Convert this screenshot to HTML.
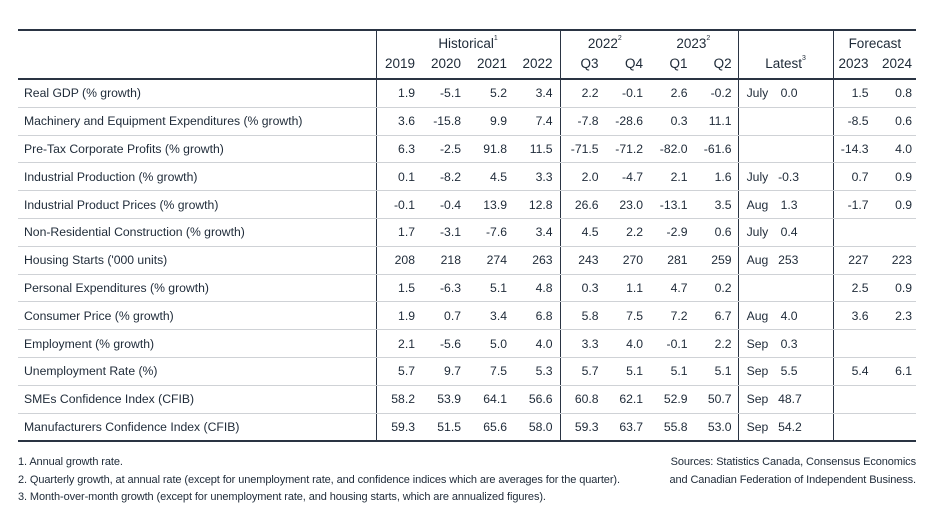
<!DOCTYPE html>
<html><head><meta charset="utf-8"><style>
body{margin:0;width:932px;height:524px;background:#fff;font-family:"Liberation Sans",sans-serif;color:#1e2a38;position:relative;overflow:hidden}
table{position:absolute;left:18px;top:29px;width:898px;border-collapse:collapse;table-layout:fixed;font-size:12.2px}
td{padding:0;white-space:nowrap;text-align:right;overflow:visible}
tr.h1 td{height:21px;border-top:2px solid #2a3443;text-align:center;vertical-align:middle;font-size:13.5px;padding-top:2px}
tr.h2 td{height:22px;border-bottom:2px solid #2a3443;vertical-align:top;padding-top:2px;font-size:13.5px}
tr.b td{height:26.8px;border-bottom:1px solid #cfd2d6}
tr.last td{border-bottom:2px solid #2a3443}
td.l{text-align:left;padding-left:6px}
.vr{border-right:1.5px solid #2a3443}
td.a{padding-right:7px}
td.q{padding-right:6px}
td.m{text-align:left;padding-left:8px}
td.v{padding-right:35px}
td.f1{padding-right:6px}
td.f2{padding-right:4px}
sup{font-size:7px;vertical-align:top;position:relative;top:-1px}
.fn{position:absolute;font-size:11px;line-height:17.5px;letter-spacing:-0.1px}
</style></head><body>
<table>
<colgroup><col style="width:358px"><col style="width:46px"><col style="width:46px"><col style="width:46px"><col style="width:46px"><col style="width:44.5px"><col style="width:44.5px"><col style="width:44.5px"><col style="width:44.5px"><col style="width:40px"><col style="width:55px"><col style="width:41.5px"><col style="width:41.5px"></colgroup>
<tr class="h1"><td class="vr"></td><td colspan="4" class="vr">Historical<sup>1</sup></td><td colspan="2">2022<sup>2</sup></td><td colspan="2" class="vr">2023<sup>2</sup></td><td colspan="2" class="vr"></td><td colspan="2">Forecast</td></tr>
<tr class="h2"><td class="vr"></td><td class="a">2019</td><td class="a">2020</td><td class="a">2021</td><td class="a vr">2022</td><td class="q">Q3</td><td class="q">Q4</td><td class="q">Q1</td><td class="q vr">Q2</td><td colspan="2" class="vr" style="text-align:center">Latest<sup>3</sup></td><td class="f1">2023</td><td class="f2">2024</td></tr>
<tr class="b"><td class="l vr">Real GDP (% growth)</td><td class="a">1.9</td><td class="a">-5.1</td><td class="a">5.2</td><td class="a vr">3.4</td><td class="q">2.2</td><td class="q">-0.1</td><td class="q">2.6</td><td class="q vr">-0.2</td><td class="m">July</td><td class="v vr">0.0</td><td class="f1">1.5</td><td class="f2">0.8</td></tr>
<tr class="b"><td class="l vr">Machinery and Equipment Expenditures (% growth)</td><td class="a">3.6</td><td class="a">-15.8</td><td class="a">9.9</td><td class="a vr">7.4</td><td class="q">-7.8</td><td class="q">-28.6</td><td class="q">0.3</td><td class="q vr">11.1</td><td class="m"></td><td class="v vr"></td><td class="f1">-8.5</td><td class="f2">0.6</td></tr>
<tr class="b"><td class="l vr">Pre-Tax Corporate Profits (% growth)</td><td class="a">6.3</td><td class="a">-2.5</td><td class="a">91.8</td><td class="a vr">11.5</td><td class="q">-71.5</td><td class="q">-71.2</td><td class="q">-82.0</td><td class="q vr">-61.6</td><td class="m"></td><td class="v vr"></td><td class="f1">-14.3</td><td class="f2">4.0</td></tr>
<tr class="b"><td class="l vr">Industrial Production (% growth)</td><td class="a">0.1</td><td class="a">-8.2</td><td class="a">4.5</td><td class="a vr">3.3</td><td class="q">2.0</td><td class="q">-4.7</td><td class="q">2.1</td><td class="q vr">1.6</td><td class="m">July</td><td class="v vr">-0.3</td><td class="f1">0.7</td><td class="f2">0.9</td></tr>
<tr class="b"><td class="l vr">Industrial Product Prices (% growth)</td><td class="a">-0.1</td><td class="a">-0.4</td><td class="a">13.9</td><td class="a vr">12.8</td><td class="q">26.6</td><td class="q">23.0</td><td class="q">-13.1</td><td class="q vr">3.5</td><td class="m">Aug</td><td class="v vr">1.3</td><td class="f1">-1.7</td><td class="f2">0.9</td></tr>
<tr class="b"><td class="l vr">Non-Residential Construction (% growth)</td><td class="a">1.7</td><td class="a">-3.1</td><td class="a">-7.6</td><td class="a vr">3.4</td><td class="q">4.5</td><td class="q">2.2</td><td class="q">-2.9</td><td class="q vr">0.6</td><td class="m">July</td><td class="v vr">0.4</td><td class="f1"></td><td class="f2"></td></tr>
<tr class="b"><td class="l vr">Housing Starts ('000 units)</td><td class="a">208</td><td class="a">218</td><td class="a">274</td><td class="a vr">263</td><td class="q">243</td><td class="q">270</td><td class="q">281</td><td class="q vr">259</td><td class="m">Aug</td><td class="v vr">253</td><td class="f1">227</td><td class="f2">223</td></tr>
<tr class="b"><td class="l vr">Personal Expenditures (% growth)</td><td class="a">1.5</td><td class="a">-6.3</td><td class="a">5.1</td><td class="a vr">4.8</td><td class="q">0.3</td><td class="q">1.1</td><td class="q">4.7</td><td class="q vr">0.2</td><td class="m"></td><td class="v vr"></td><td class="f1">2.5</td><td class="f2">0.9</td></tr>
<tr class="b"><td class="l vr">Consumer Price (% growth)</td><td class="a">1.9</td><td class="a">0.7</td><td class="a">3.4</td><td class="a vr">6.8</td><td class="q">5.8</td><td class="q">7.5</td><td class="q">7.2</td><td class="q vr">6.7</td><td class="m">Aug</td><td class="v vr">4.0</td><td class="f1">3.6</td><td class="f2">2.3</td></tr>
<tr class="b"><td class="l vr">Employment (% growth)</td><td class="a">2.1</td><td class="a">-5.6</td><td class="a">5.0</td><td class="a vr">4.0</td><td class="q">3.3</td><td class="q">4.0</td><td class="q">-0.1</td><td class="q vr">2.2</td><td class="m">Sep</td><td class="v vr">0.3</td><td class="f1"></td><td class="f2"></td></tr>
<tr class="b"><td class="l vr">Unemployment Rate (%)</td><td class="a">5.7</td><td class="a">9.7</td><td class="a">7.5</td><td class="a vr">5.3</td><td class="q">5.7</td><td class="q">5.1</td><td class="q">5.1</td><td class="q vr">5.1</td><td class="m">Sep</td><td class="v vr">5.5</td><td class="f1">5.4</td><td class="f2">6.1</td></tr>
<tr class="b"><td class="l vr">SMEs Confidence Index (CFIB)</td><td class="a">58.2</td><td class="a">53.9</td><td class="a">64.1</td><td class="a vr">56.6</td><td class="q">60.8</td><td class="q">62.1</td><td class="q">52.9</td><td class="q vr">50.7</td><td class="m">Sep</td><td class="v vr">48.7</td><td class="f1"></td><td class="f2"></td></tr>
<tr class="b last"><td class="l vr">Manufacturers Confidence Index (CFIB)</td><td class="a">59.3</td><td class="a">51.5</td><td class="a">65.6</td><td class="a vr">58.0</td><td class="q">59.3</td><td class="q">63.7</td><td class="q">55.8</td><td class="q vr">53.0</td><td class="m">Sep</td><td class="v vr">54.2</td><td class="f1"></td><td class="f2"></td></tr>
</table>
<div class="fn" style="left:18px;top:454px">1. Annual growth rate.<br>2. Quarterly growth, at annual rate (except for unemployment rate, and confidence indices which are averages for the quarter).<br>3. Month-over-month growth (except for unemployment rate, and housing starts, which are annualized figures).</div>
<div class="fn" style="right:16px;top:454px;text-align:right">Sources: Statistics Canada, Consensus Economics<br>and Canadian Federation of Independent Business.</div>
</body></html>
